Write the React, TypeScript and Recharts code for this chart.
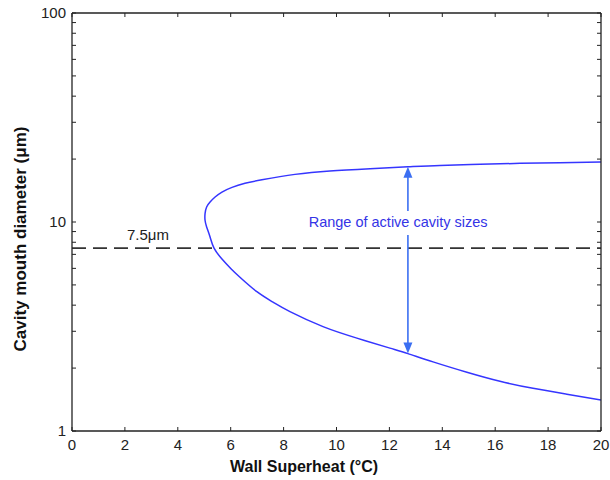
import React from 'react';
import { LineChart, Line, XAxis, YAxis, ReferenceLine, ReferenceDot } from 'recharts';

// Wall superheat (°C) along the active-cavity boundary curve (upper branch -> nose -> lower branch)
const superheat = [
  20.0, 18.45, 16.94, 15.43, 13.91, 12.7, 11.27, 9.75, 8.43, 7.18, 6.54, 6.05, 5.67, 5.41, 5.22, 5.09, 5.03,
  5.03, 5.09, 5.22, 5.37, 5.67, 6.01, 6.35, 6.99, 7.6, 8.24, 9.49, 10.77, 12.02, 12.7, 13.65, 14.93, 16.18,
  17.43, 18.71, 20.0,
];
// Cavity mouth diameter (µm)
const diameter = [
  19.35, 19.22, 19.08, 18.87, 18.66, 18.36, 17.99, 17.56, 16.9, 15.91, 15.31, 14.65, 13.91, 13.17, 12.46, 11.8,
  10.97, 10.19, 9.47, 8.48, 7.5, 6.65, 5.976, 5.44, 4.64, 4.134, 3.724, 3.157, 2.782, 2.492, 2.346, 2.141, 1.91,
  1.729, 1.6, 1.499, 1.406,
];

const xTicks = [0, 2, 4, 6, 8, 10, 12, 14, 16, 18, 20];
const yTicks = [1, 2, 3, 4, 5, 6, 7, 8, 9, 10, 20, 30, 40, 50, 60, 70, 80, 90, 100];
const yLabelTicks = [1, 10, 100];

const referenceDiameter = 7.5;
const referenceLabel = '7.5\u03bcm';
const referenceLabelX = 2.87;

const arrowX = 12.7;
const arrowTop = 18.36;
const arrowBottom = 2.346;
const rangeLabel = 'Range of active cavity sizes';
const rangeLabelX = 12.33;
const rangeLabelY = 10;

const data = superheat.map((x, i) => ({ x, d: diameter[i] }));

const FONT = "Arial, 'Liberation Sans', Helvetica, sans-serif";
const AXIS = '#222';
const CURVE = '#3535ff';
const ARROW = '#3b6ff2';
const TEXT_BLUE = '#3434e6';

const BottomTick = (p: any) => {
  const { x, y, payload } = p;
  return (
    <g>
      <line x1={x} y1={y} x2={x} y2={y - 4} stroke={AXIS} strokeWidth={1} />
      <text x={x} y={y + 19} textAnchor="middle" fontSize={15} fontFamily={FONT} fill={AXIS}>
        {payload.value}
      </text>
    </g>
  );
};

const TopTick = (p: any) => {
  const { x, y } = p;
  return <line x1={x} y1={y} x2={x} y2={y + 4} stroke={AXIS} strokeWidth={1} />;
};

const LeftTick = (p: any) => {
  const { x, y, payload } = p;
  const showLabel = yLabelTicks.includes(payload.value);
  return (
    <g>
      <line x1={x} y1={y} x2={x + 4} y2={y} stroke={AXIS} strokeWidth={1} />
      {showLabel && (
        <text x={x - 6} y={y + 5} textAnchor="end" fontSize={15} fontFamily={FONT} fill={AXIS}>
          {payload.value}
        </text>
      )}
    </g>
  );
};

const RightTick = (p: any) => {
  const { x, y } = p;
  return <line x1={x} y1={y} x2={x - 4} y2={y} stroke={AXIS} strokeWidth={1} />;
};

const ArrowShape = (p: any) => {
  const { x1, y1, x2, y2 } = p;
  if (x1 == null || y1 == null) return null;
  const top = Math.min(y1, y2);
  const bot = Math.max(y1, y2);
  const x = x1;
  const hl = 11;
  const hw = 4.5;
  return (
    <g>
      <line x1={x} y1={top + hl - 1} x2={x} y2={bot - hl + 1} stroke={ARROW} strokeWidth={1.6} />
      <polygon points={`${x},${top} ${x - hw},${top + hl} ${x + hw},${top + hl}`} fill={ARROW} />
      <polygon points={`${x},${bot} ${x - hw},${bot - hl} ${x + hw},${bot - hl}`} fill={ARROW} />
    </g>
  );
};

const RangeLabel = (p: any) => {
  const { cx, cy } = p;
  if (cx == null) return null;
  return (
    <g>
      <rect x={cx - 100} y={cy - 11} width={200} height={24} fill="#fff" />
      <text x={cx} y={cy + 5} textAnchor="middle" fontSize={14.5} fontFamily={FONT} fill={TEXT_BLUE}>
        {rangeLabel}
      </text>
    </g>
  );
};

const RefLabel = (p: any) => {
  const { cx, cy } = p;
  if (cx == null) return null;
  return (
    <text x={cx} y={cy - 8} textAnchor="middle" fontSize={15} fontFamily={FONT} fill={AXIS}>
      {referenceLabel}
    </text>
  );
};

export default function App() {
  return (
    <div style={{ position: 'absolute', left: 0, top: 0, width: 610, height: 480, background: '#fff' }}>
      <LineChart width={610} height={480} data={data} margin={{ top: 0, right: 0, bottom: 0, left: 0 }}>
        <XAxis
          xAxisId="b"
          dataKey="x"
          type="number"
          domain={[0, 20]}
          ticks={xTicks}
          interval={0}
          allowDataOverflow
          height={49}
          tickSize={0}
          tickMargin={0}
          tickLine={false}
          tick={BottomTick}
          axisLine={{ stroke: AXIS, strokeWidth: 1.3 }}
          label={{
            content: () => (
              <text x={304} y={472} textAnchor="middle" fontSize={16} fontWeight="bold" fontFamily={FONT} fill="#111">
                Wall Superheat (°C)
              </text>
            ),
          }}
        />
        <XAxis
          xAxisId="t"
          orientation="top"
          dataKey="x"
          type="number"
          domain={[0, 20]}
          ticks={xTicks}
          interval={0}
          allowDataOverflow
          height={13}
          tickSize={0}
          tickMargin={0}
          tickLine={false}
          tick={TopTick}
          axisLine={{ stroke: AXIS, strokeWidth: 1.3 }}
        />
        <YAxis
          yAxisId="l"
          type="number"
          scale="log"
          domain={[1, 100]}
          ticks={yTicks}
          interval={0}
          allowDataOverflow
          width={72}
          tickSize={0}
          tickMargin={0}
          tickLine={false}
          tick={LeftTick}
          axisLine={{ stroke: AXIS, strokeWidth: 1.3 }}
          label={{
            content: () => (
              <text
                x={0}
                y={0}
                transform="translate(26,239) rotate(-90)"
                textAnchor="middle"
                fontSize={17}
                fontWeight="bold"
                fontFamily={FONT}
                fill="#111"
              >
                Cavity mouth diameter (μm)
              </text>
            ),
          }}
        />
        <YAxis
          yAxisId="r"
          orientation="right"
          type="number"
          scale="log"
          domain={[1, 100]}
          ticks={yTicks}
          interval={0}
          allowDataOverflow
          width={9}
          tickSize={0}
          tickMargin={0}
          tickLine={false}
          tick={RightTick}
          axisLine={{ stroke: AXIS, strokeWidth: 1.3 }}
        />
        <ReferenceLine
          xAxisId="b"
          yAxisId="l"
          y={referenceDiameter}
          stroke="#333"
          strokeWidth={1.6}
          strokeDasharray="14 7"
        />
        <Line
          xAxisId="b"
          yAxisId="l"
          dataKey="d"
          type="natural"
          stroke={CURVE}
          strokeWidth={1.5}
          dot={false}
          activeDot={false}
          isAnimationActive={false}
        />
        <ReferenceLine
          xAxisId="b"
          yAxisId="l"
          segment={[
            { x: arrowX, y: arrowTop },
            { x: arrowX, y: arrowBottom },
          ]}
          ifOverflow="visible"
          shape={(p: any) => <ArrowShape {...p} />}
        />
        <ReferenceDot
          xAxisId="b"
          yAxisId="l"
          x={rangeLabelX}
          y={rangeLabelY}
          r={1}
          ifOverflow="visible"
          shape={(p: any) => <RangeLabel {...p} />}
        />
        <ReferenceDot
          xAxisId="b"
          yAxisId="l"
          x={referenceLabelX}
          y={referenceDiameter}
          r={1}
          ifOverflow="visible"
          shape={(p: any) => <RefLabel {...p} />}
        />
      </LineChart>
    </div>
  );
}
